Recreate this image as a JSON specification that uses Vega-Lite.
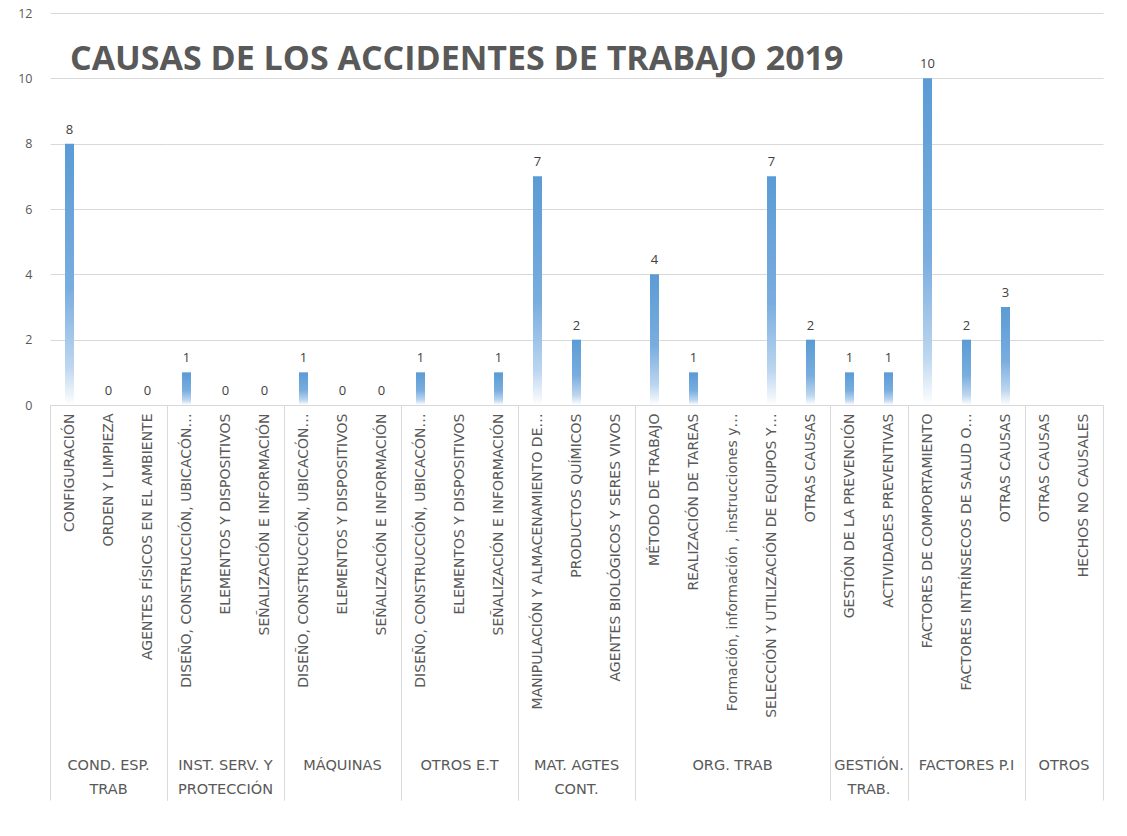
{
  "$schema": "https://vega.github.io/schema/vega-lite/v6.json",
  "background": "white",
  "padding": {"left": 17, "top": 7, "right": 10, "bottom": 5},
  "bounds": "flush",
  "title": {
    "text": "CAUSAS DE LOS ACCIDENTES DE TRABAJO 2019",
    "anchor": "start",
    "frame": "group",
    "font": "Open Sans",
    "fontSize": 34,
    "fontWeight": "bold",
    "color": "#595959",
    "offset": -70,
    "dx": 20
  },
  "data": {
    "values": [
      {"grupo": "COND. ESP.|TRAB", "causa": "CONFIGURACIÓN", "valor": 8},
      {"grupo": "COND. ESP.|TRAB", "causa": "ORDEN Y LIMPIEZA", "valor": 0},
      {"grupo": "COND. ESP.|TRAB", "causa": "AGENTES FÍSICOS EN EL AMBIENTE", "valor": 0},
      {"grupo": "INST. SERV. Y|PROTECCIÓN", "causa": "DISEÑO, CONSTRUCCIÓN, UBICACÓN…", "valor": 1},
      {"grupo": "INST. SERV. Y|PROTECCIÓN", "causa": "ELEMENTOS Y DISPOSITIVOS", "valor": 0},
      {"grupo": "INST. SERV. Y|PROTECCIÓN", "causa": "SEÑALIZACIÓN E INFORMACIÓN", "valor": 0},
      {"grupo": "MÁQUINAS", "causa": "DISEÑO, CONSTRUCCIÓN, UBICACÓN…", "valor": 1},
      {"grupo": "MÁQUINAS", "causa": "ELEMENTOS Y DISPOSITIVOS", "valor": 0},
      {"grupo": "MÁQUINAS", "causa": "SEÑALIZACIÓN E INFORMACIÓN", "valor": 0},
      {"grupo": "OTROS E.T", "causa": "DISEÑO, CONSTRUCCIÓN, UBICACÓN…", "valor": 1},
      {"grupo": "OTROS E.T", "causa": "ELEMENTOS Y DISPOSITIVOS", "valor": null},
      {"grupo": "OTROS E.T", "causa": "SEÑALIZACIÓN E INFORMACIÓN", "valor": 1},
      {"grupo": "MAT. AGTES|CONT.", "causa": "MANIPULACIÓN Y ALMACENAMIENTO DE…", "valor": 7},
      {"grupo": "MAT. AGTES|CONT.", "causa": "PRODUCTOS QUÍMICOS", "valor": 2},
      {"grupo": "MAT. AGTES|CONT.", "causa": "AGENTES BIOLÓGICOS Y SERES VIVOS", "valor": null},
      {"grupo": "ORG. TRAB", "causa": "MÉTODO DE TRABAJO", "valor": 4},
      {"grupo": "ORG. TRAB", "causa": "REALIZACIÓN DE TAREAS", "valor": 1},
      {"grupo": "ORG. TRAB", "causa": "Formación, información , instrucciones y…", "valor": null},
      {"grupo": "ORG. TRAB", "causa": "SELECCIÓN Y UTILIZACIÓN DE EQUIPOS Y…", "valor": 7},
      {"grupo": "ORG. TRAB", "causa": "OTRAS CAUSAS", "valor": 2},
      {"grupo": "GESTIÓN.|TRAB.", "causa": "GESTIÓN DE LA PREVENCIÓN", "valor": 1},
      {"grupo": "GESTIÓN.|TRAB.", "causa": "ACTIVIDADES PREVENTIVAS", "valor": 1},
      {"grupo": "FACTORES P.I", "causa": "FACTORES DE COMPORTAMIENTO", "valor": 10},
      {"grupo": "FACTORES P.I", "causa": "FACTORES INTRÍNSECOS DE SALUD O…", "valor": 2},
      {"grupo": "FACTORES P.I", "causa": "OTRAS CAUSAS", "valor": 3},
      {"grupo": "OTROS", "causa": "OTRAS CAUSAS", "valor": null},
      {"grupo": "OTROS", "causa": "HECHOS NO CAUSALES", "valor": null}
    ]
  },
  "facet": {
    "column": {
      "field": "grupo",
      "type": "nominal",
      "sort": ["COND. ESP.|TRAB", "INST. SERV. Y|PROTECCIÓN", "MÁQUINAS", "OTROS E.T", "MAT. AGTES|CONT.", "ORG. TRAB", "GESTIÓN.|TRAB.", "FACTORES P.I", "OTROS"],
      "header": {
        "title": null,
        "labelOrient": "bottom",
        "labelExpr": "split(datum.value, '|')",
        "labelFont": "DejaVu Sans",
        "labelFontSize": 14.5,
        "labelColor": "#595959",
        "labelPadding": 354,
        "labelLineHeight": 24
      }
    }
  },
  "spacing": 0,
  "spec": {
    "width": {"step": 39},
    "height": 392,
    "encoding": {
      "x": {
        "field": "causa",
        "type": "nominal",
        "sort": null,
        "title": null,
        "scale": {"paddingInner": 0, "paddingOuter": 0},
        "axis": {
          "labelAngle": -90,
          "labelFont": "DejaVu Sans",
          "labelFontSize": 14,
          "labelColor": "#595959",
          "labelLimit": 400,
          "labelPadding": -387,
          "domainColor": "#d9d9d9",
          "ticks": true,
          "tickBand": "extent",
          "tickSize": 395,
          "tickColor": "#d9d9d9",
          "tickOpacity": {"condition": {"test": "datum.index === 1 || datum.extra", "value": 1}, "value": 0},
          "grid": false
        }
      }
    },
    "layer": [
      {
        "mark": {"type": "text", "opacity": 0},
        "encoding": {"text": {"value": ""}}
      },
      {
        "mark": {
          "type": "bar",
          "width": 9,
          "fill": {
            "gradient": "linear",
            "x1": 0, "y1": 0, "x2": 0, "y2": 1,
            "stops": [
              {"offset": 0, "color": "#5B9BD5"},
              {"offset": 0.55, "color": "#79ADDF"},
              {"offset": 0.85, "color": "#BCD6EF"},
              {"offset": 1, "color": "#FFFFFF"}
            ]
          }
        },
        "encoding": {
          "y": {
            "field": "valor",
            "type": "quantitative",
            "title": null,
            "scale": {"domain": [0, 12]},
            "axis": {
              "values": [0, 2, 4, 6, 8, 10, 12],
              "domain": false,
              "ticks": false,
              "labelPadding": 18,
              "labelFont": "Open Sans",
              "labelFontSize": 12.5,
              "labelColor": "#595959",
              "gridColor": "#d9d9d9"
            }
          }
        }
      },
      {
        "mark": {"type": "text", "baseline": "bottom", "dy": -7, "font": "Open Sans", "fontSize": 13, "color": "#404040"},
        "encoding": {
          "y": {"field": "valor", "type": "quantitative"},
          "text": {"field": "valor", "type": "quantitative"}
        }
      }
    ]
  },
  "resolve": {"scale": {"x": "independent"}},
  "config": {"view": {"stroke": null}}
}
